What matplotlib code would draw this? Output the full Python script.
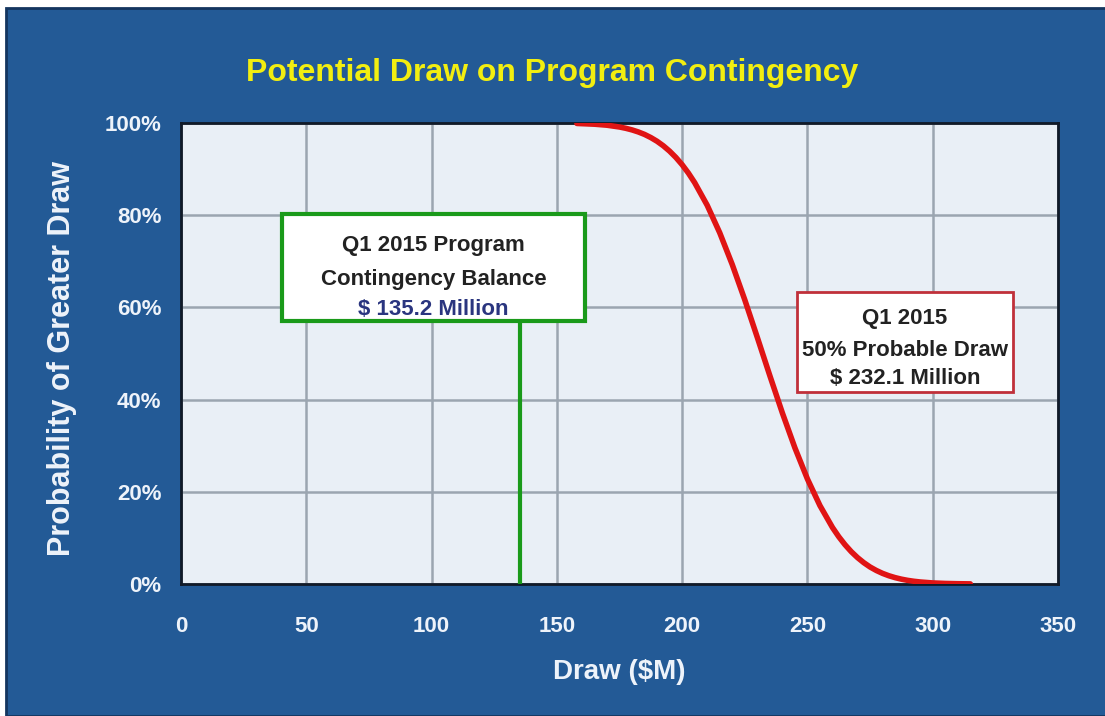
import matplotlib.pyplot as plt
from matplotlib.patches import Rectangle
from matplotlib.ticker import FuncFormatter

# curve: draw ($M) vs probability of greater draw (%)
draw = [158, 165, 170, 175, 177.5, 180, 182.5, 185, 187.5, 190, 192.5, 195,
        197.5, 200, 202.5, 205, 210, 215, 220, 225, 230, 235, 240, 245, 250,
        255, 260, 262.5, 265, 267.5, 270, 272.5, 275, 277.5, 280, 282.5, 285,
        287.5, 290, 292.5, 295, 300, 305, 310, 315]
prob = [99.90, 99.74, 99.52, 99.13, 98.85, 98.50, 98.06, 97.52, 96.84, 96.03,
        95.05, 93.89, 92.53, 90.95, 89.13, 87.06, 82.15, 76.19, 69.29, 61.64,
        53.49, 45.19, 37.10, 29.54, 22.78, 17.00, 12.25, 10.26, 8.52, 7.01,
        5.72, 4.62, 3.69, 2.93, 2.30, 1.79, 1.38, 1.05, 0.79, 0.59, 0.44,
        0.23, 0.12, 0.06, 0.03]

balance = 135.2
p50_draw = 232.1
xticks = [0, 50, 100, 150, 200, 250, 300, 350]
yticks = [0, 20, 40, 60, 80, 100]

plt.rcParams['font.family'] = ['Liberation Sans', 'DejaVu Sans']
plt.rcParams['font.weight'] = 'bold'

fig = plt.figure(figsize=(11.05, 7.16), dpi=100)
fig.patch.set_facecolor('white')
# blue panel behind everything
fig.patches.append(Rectangle((6/1105, 0), 1, 1-8/716, transform=fig.transFigure,
                             facecolor='#235a96', edgecolor='#14355f', lw=2, zorder=-10))

ax = fig.add_axes([181/1105, 1-584/716, 877/1105, 461/716])
ax.set_zorder(1)
ax.set_facecolor('#e9eff6')
ax.set_xlim(0, 350)
ax.set_ylim(0, 100)
ax.set_xticks(xticks)
ax.set_yticks(yticks)
ax.yaxis.set_major_formatter(FuncFormatter(lambda v, p: f'{v:.0f}%'))
ax.tick_params(length=0, colors='#eef3fa', labelsize=16)
ax.tick_params(axis='x', pad=23)
ax.tick_params(axis='y', pad=14)
ax.grid(True, color='#9ba5b0', lw=1.8)
ax.set_axisbelow(True)
for s in ax.spines.values():
    s.set_color('#111a28')
    s.set_linewidth(2)

# probability curve
ax.plot(draw, prob, color='#e01414', lw=4, solid_capstyle='round',
        solid_joinstyle='round', zorder=4)

# contingency balance marker
ax.plot([balance, balance], [0, 57], color='#1a9a1a', lw=3, zorder=5)
ax.add_patch(Rectangle((40.3, 57.0), 120.9, 23.3, facecolor='white',
                       edgecolor='#1a9a1a', lw=3, zorder=6))
ax.text(100.7, 73.4, 'Q1 2015 Program', ha='center', va='center',
        fontsize=16, color='#222222', zorder=7)
ax.text(100.7, 66.0, 'Contingency Balance', ha='center', va='center',
        fontsize=16, color='#222222', zorder=7)
ax.text(100.7, 59.6, f'$ {balance} Million', ha='center', va='center',
        fontsize=16, color='#2a357f', zorder=7)

ax.add_patch(Rectangle((245.8, 41.6), 86.2, 21.7, facecolor='white',
                       edgecolor='#c0303a', lw=2, zorder=6))
ax.text(288.9, 57.6, 'Q1 2015', ha='center', va='center',
        fontsize=16, color='#222222', zorder=7)
ax.text(288.9, 50.6, '50% Probable Draw', ha='center', va='center',
        fontsize=16, color='#222222', zorder=7)
ax.text(288.9, 44.6, f'$ {p50_draw} Million', ha='center', va='center',
        fontsize=16, color='#222222', zorder=7)

ax.set_xlabel('Draw ($M)', fontsize=20, fontweight='bold', color='#eef3fa', va='center')
ax.xaxis.set_label_coords(0.5, -0.191)
ax.set_ylabel('Probability of Greater Draw', fontsize=22, fontweight='bold',
              color='#eef3fa', va='center')
ax.yaxis.set_label_coords(-0.136, 0.49)

fig.text(552/1105, 1-73/716, 'Potential Draw on Program Contingency',
         ha='center', va='center', fontsize=23, fontweight='bold', color='#f2ee10')

fig.savefig('out.png', dpi=100)
